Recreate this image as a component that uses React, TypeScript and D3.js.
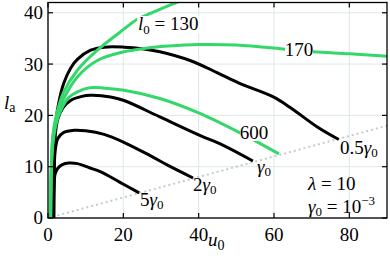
import React from 'react';
import * as d3 from 'd3';

type Pt = [number, number];

const xTicks = [0, 20, 40, 60, 80];
const yTicks = [0, 10, 20, 30, 40];

// black curves, gamma = 0.5, 1, 2, 5 x gamma0
const gHalf: Pt[] = [[1.5, 0], [1.55, 8], [1.75, 15], [2.2, 19.5], [3, 23], [4.2, 26.3], [6, 29.2], [7.8, 30.9], [11.3, 32.7], [14.9, 33.3], [20.2, 33.3], [25, 33.0], [29.7, 32.4], [37.7, 30.7], [45, 28.3], [51, 26.2], [59.8, 23.6], [64.2, 21.6], [71.4, 17.8], [77.2, 15.3]];
const gOne: Pt[] = [[1.5, 0], [1.6, 10], [1.9, 16], [2.6, 19.3], [4, 21.5], [6, 22.9], [9, 23.7], [11.3, 23.9], [16.6, 23.6], [20.2, 22.9], [29.7, 19.7], [40.3, 16.1], [46.4, 14.2], [54.4, 11.1]];
const gTwo: Pt[] = [[1.5, 0], [1.6, 8], [1.9, 13], [2.6, 15.5], [4, 16.6], [7, 17.1], [10, 17.0], [14.9, 16.3], [20, 14.8], [27, 12.2], [32, 10.2], [38.5, 7.8]];
const gFive: Pt[] = [[1.5, 0], [1.6, 6], [1.9, 8.6], [2.6, 9.7], [3.8, 10.4], [5.5, 10.7], [7.8, 10.6], [11, 9.8], [14, 9.0], [19, 7.0], [24.2, 4.9]];

// green curves, l0 = 130, 170, 600
const l130: Pt[] = [[0.7, 0], [0.9, 10], [1.3, 16], [2.2, 20], [4.2, 24.6], [7.8, 28.8], [13.1, 32.7], [19.1, 36.2], [23.6, 38.7], [26.3, 39.6], [33.7, 41.9], [36, 42.6]];
const l170: Pt[] = [[0.7, 0], [0.9, 10], [1.3, 16], [2.2, 19.5], [4.2, 23.3], [7.8, 27.5], [13.1, 30.7], [20.2, 32.4], [25, 33.0], [32, 33.5], [40, 33.8], [50, 33.7], [63, 32.9], [70.3, 32.4], [80, 32.0], [90, 31.5]];
const l600: Pt[] = [[0.7, 0], [0.9, 10], [1.4, 15], [2.2, 18.5], [3.4, 21], [5.5, 23.5], [7.8, 24.6], [11.1, 25.4], [15, 25.3], [20.2, 24.9], [29.7, 23.3], [40.3, 20.4], [51, 16.6], [61.3, 12.5]];

// dotted boundary l = u / 5
const boundary: Pt[] = [[2.5, 0.5], [90, 18]];

const W = 390;
const H = 258;
const m = { left: 48, right: 387, top: 2.5, bottom: 218 };
const green = '#34d86a';

const App = () => {
  const x = d3.scaleLinear().domain([0, 90]).range([m.left, m.right]);
  const y = d3.scaleLinear().domain([0, 42]).range([m.bottom, m.top]);
  const line = d3.line<Pt>()
    .x(d => x(d[0]))
    .y(d => y(d[1]))
    .curve(d3.curveCatmullRom.alpha(0.5));

  const tick = 5;

  return (
    <svg width={W} height={H} style={{ position: 'absolute', left: 0, top: 0, background: '#fff' }}>
      <style>{`.lbl { font-family: 'Liberation Serif'; font-size: 19px; }`}</style>
      <defs>
        <clipPath id="plot">
          <rect x={m.left} y={m.top} width={m.right - m.left} height={m.bottom - m.top} />
        </clipPath>
      </defs>

      {/* grid */}
      <g stroke="#dde8e8" strokeWidth={1}>
        {xTicks.map(t => <line key={'gx' + t} x1={x(t)} x2={x(t)} y1={m.top} y2={m.bottom} />)}
        {yTicks.map(t => <line key={'gy' + t} x1={m.left} x2={m.right} y1={y(t)} y2={y(t)} />)}
      </g>

      <g clipPath="url(#plot)" fill="none" strokeLinecap="butt" strokeLinejoin="round">
        <path d={line(boundary) || ''} stroke="#c3cccc" strokeWidth={2} strokeDasharray="2,3" />
        {[gHalf, gOne, gTwo, gFive].map((s, i) => (
          <path key={'b' + i} d={line(s) || ''} stroke="#000" strokeWidth={3} />
        ))}
        {[l130, l170, l600].map((s, i) => (
          <path key={'g' + i} d={line(s) || ''} stroke={green} strokeWidth={3} />
        ))}
      </g>

      <rect x={137} y={16} width={62} height={17} fill="#fff" />
      <rect x={285} y={42} width={28} height={16} fill="#fff" />
      <rect x={240} y={125} width={28} height={16} fill="#fff" />

      {/* frame and ticks */}
      <rect x={m.left} y={m.top} width={m.right - m.left} height={m.bottom - m.top} fill="none" stroke="#000" strokeWidth={1.3} />
      <g stroke="#000" strokeWidth={1.2}>
        {xTicks.map(t => (
          <g key={'tx' + t}>
            <line x1={x(t)} x2={x(t)} y1={m.bottom} y2={m.bottom - tick} />
            <line x1={x(t)} x2={x(t)} y1={m.top} y2={m.top + tick} />
          </g>
        ))}
        {yTicks.map(t => (
          <g key={'ty' + t}>
            <line x1={m.left} x2={m.left + tick} y1={y(t)} y2={y(t)} />
            <line x1={m.right} x2={m.right - tick} y1={y(t)} y2={y(t)} />
          </g>
        ))}
      </g>

      <g fill="#000">
        {/* inline labels on the green curves */}
        <text className="lbl" x={138} y={30}>
          <tspan fontStyle="italic">l</tspan>
          <tspan fontSize={13} dy={4}>0</tspan>
          <tspan dy={-4}> = 130</tspan>
        </text>
        <text className="lbl" x={299} y={56} textAnchor="middle">170</text>
        <text className="lbl" x={254} y={138.5} textAnchor="middle">600</text>

        {/* labels on the black curves */}
        <text className="lbl" x={340} y={154}>
          0.5<tspan fontStyle="italic">γ</tspan><tspan fontSize={13} dy={3}>0</tspan>
        </text>
        <text className="lbl" x={257} y={173}>
          <tspan fontStyle="italic">γ</tspan><tspan fontSize={13} dy={3}>0</tspan>
        </text>
        <text className="lbl" x={193} y={191}>
          2<tspan fontStyle="italic">γ</tspan><tspan fontSize={13} dy={3}>0</tspan>
        </text>
        <text className="lbl" x={140} y={206}>
          5<tspan fontStyle="italic">γ</tspan><tspan fontSize={13} dy={3}>0</tspan>
        </text>

        <text className="lbl" x={308} y={190}>
          <tspan fontStyle="italic">λ</tspan> = 10
        </text>
        <text className="lbl" x={308} y={213}>
          <tspan fontStyle="italic">γ</tspan><tspan fontSize={13} dy={3}>0</tspan>
          <tspan dy={-3}> = 10</tspan>
          <tspan fontSize={13} dy={-8}>−3</tspan>
        </text>

        {/* tick labels */}
        {xTicks.map(t => (
          <text key={'lx' + t} className="lbl" x={x(t)} y={241} textAnchor="middle">{t}</text>
        ))}
        {yTicks.map(t => (
          <text key={'ly' + t} className="lbl" x={43} y={y(t)} dy="0.34em" textAnchor="end">{t}</text>
        ))}

        {/* axis titles */}
        <text className="lbl" x={4} y={109}>
          <tspan fontStyle="italic">l</tspan><tspan fontSize={14} dy={3}>a</tspan>
        </text>
        <text className="lbl" x={208} y={246}>
          <tspan fontStyle="italic">u</tspan><tspan fontSize={14} dy={4}>0</tspan>
        </text>
      </g>
    </svg>
  );
};

export default App;
